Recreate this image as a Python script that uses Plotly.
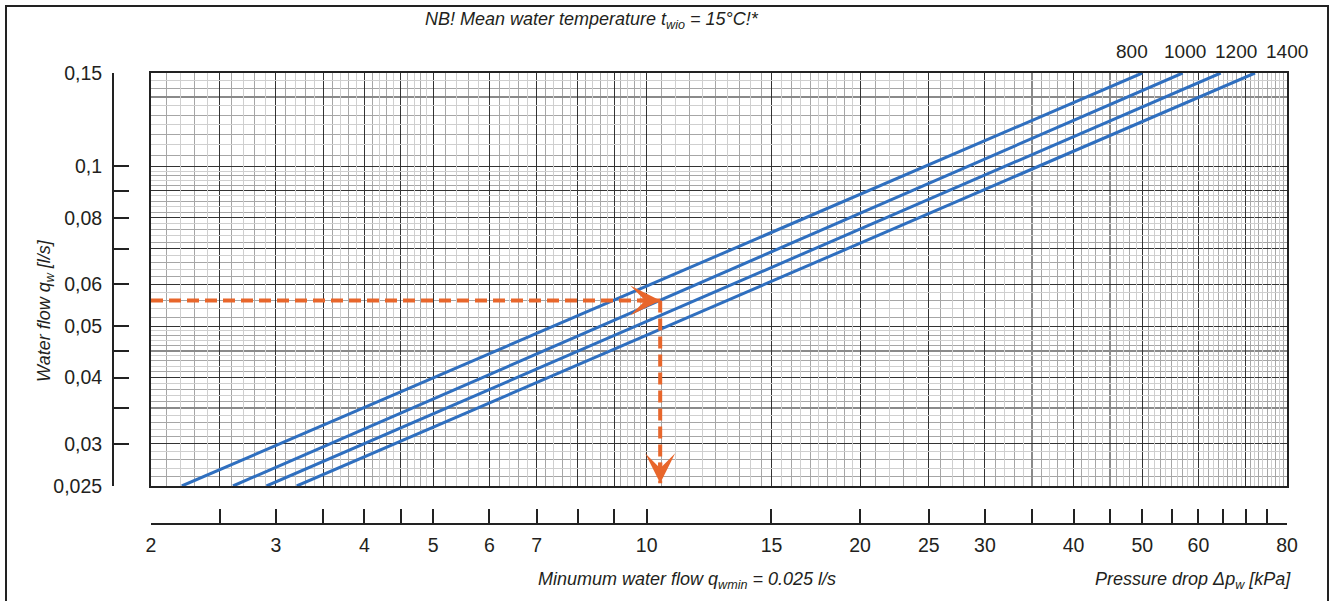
import math
import plotly.graph_objects as go

# ---------------- data ----------------
curve_labels = ["800", "1000", "1200", "1400"]
flow_ends = [0.025, 0.15]                     # l/s at bottom / top of the grid
dp_at_flow_min = [2.21, 2.61, 2.91, 3.21]     # kPa where each line meets q = 0.025
dp_at_flow_max = [50.0, 57.0, 64.5, 72.1]     # kPa where each line meets q = 0.15
label_dp = [48.3, 57.4, 67.8, 80.0]           # kPa position of the curve labels

example_dp_start = 2.0
example_flow = 0.0559
example_dp = 10.45
example_flow_floor = 0.0253

x_range = [2, 80]
y_range = [0.025, 0.15]

x_tick_vals = [2, 2.5, 3, 3.5, 4, 4.5, 5, 6, 7, 8, 9, 10, 15, 20, 25, 30, 35, 40,
               45, 50, 55, 60, 65, 70, 75, 80]
x_tick_text = ["2", "", "3", "", "4", "", "5", "6", "7", "", "", "10", "15", "20",
               "25", "30", "", "40", "", "50", "", "60", "", "", "", "80"]
y_tick_vals = [0.025, 0.03, 0.035, 0.04, 0.045, 0.05, 0.06, 0.07, 0.08, 0.09, 0.1, 0.15]
y_tick_text = ["0,025", "0,03", "", "0,04", "", "0,05", "0,06", "", "0,08", "", "0,1", "0,15"]

# grid of the log paper
x_grid_dark = [2.5, 3, 3.5, 4, 4.5, 5, 6, 7, 8, 9, 10, 15, 20, 25, 30, 40, 50, 60, 70]
x_grid_semi = [35, 45]
y_grid_dark = [0.03, 0.04, 0.05, 0.06, 0.07, 0.08, 0.09, 0.1]
y_grid_semi = [0.035, 0.045, 0.135]


def steps(a, b, s):
    n = int(round((b - a) / s))
    return [round(a + i * s, 4) for i in range(1, n)]


x_minor = [v for v in steps(2, 5, 0.1) + steps(5, 10, 0.2) + steps(10, 20, 0.5) + steps(20, 80, 1)
           if v not in x_grid_dark + x_grid_semi]
y_minor = [v for v in steps(0.025, 0.05, 0.001) + steps(0.05, 0.1, 0.002) + steps(0.1, 0.15, 0.005)
           if v not in y_grid_dark + y_grid_semi]
x_mid, x_light = x_minor[0::2], x_minor[1::2]
y_mid, y_light = y_minor[0::2], y_minor[1::2]

# ---------------- style ----------------
FONT = "Liberation Sans, Arial, Helvetica, sans-serif"
INK = "#231f20"
BLUE = "#2f6fbf"
ORANGE = "#e8662b"
W, H = 1333, 601
ML, MR, MT, MB = 113, 46, 73, 77
PW = W - ML - MR
PH = H - MT - MB


def px_x(p):
    return (p - ML) / PW


def px_y(p):
    return (H - MB - p) / PH


fig = go.Figure()

# invisible anchors for helper axes
fig.add_trace(go.Scatter(x=[10], y=[0.05], xaxis="x2", yaxis="y2", mode="markers",
                         marker=dict(opacity=0), hoverinfo="skip", showlegend=False))
fig.add_trace(go.Scatter(x=[10], y=[0.05], xaxis="x3", yaxis="y3", mode="markers",
                         marker=dict(opacity=0), hoverinfo="skip", showlegend=False))

# curves
for lab, d0, d1 in zip(curve_labels, dp_at_flow_min, dp_at_flow_max):
    fig.add_trace(go.Scatter(x=[d0, d1], y=flow_ends, mode="lines", name=lab,
                             line=dict(color=BLUE, width=3), showlegend=False))

# example reading
fig.add_trace(go.Scatter(x=[example_dp_start, example_dp], y=[example_flow, example_flow],
                         mode="lines", line=dict(color=ORANGE, width=4, dash="12px,6px"),
                         showlegend=False, hoverinfo="skip"))
fig.add_trace(go.Scatter(x=[example_dp, example_dp], y=[example_flow, example_flow_floor],
                         mode="lines", line=dict(color=ORANGE, width=4, dash="12px,6px"),
                         showlegend=False, hoverinfo="skip"))

annotations = []
for lab, xd in zip(curve_labels, label_dp):
    annotations.append(dict(x=math.log10(xd), xref="x", y=px_y(52), yref="paper",
                            xanchor="center", yanchor="middle",
                            text=lab, showarrow=False, font=dict(size=19, color=INK, family=FONT)))
annotations.append(dict(x=math.log10(example_dp), y=math.log10(example_flow), xref="x", yref="y",
                        text="", showarrow=True, ax=-22, ay=0, arrowhead=3, arrowsize=1.25,
                        arrowwidth=4, arrowcolor=ORANGE))
annotations.append(dict(x=math.log10(example_dp), y=math.log10(example_flow_floor), xref="x", yref="y",
                        text="", showarrow=True, ax=0, ay=-22, arrowhead=3, arrowsize=1.25,
                        arrowwidth=4, arrowcolor=ORANGE))
ital = dict(family=FONT, size=18, color=INK)
annotations += [
    dict(x=px_x(592), y=px_y(20), xref="paper", yref="paper", showarrow=False,
         xanchor="center", yanchor="middle",
         text="<i>NB! Mean water temperature t<sub>wio</sub> = 15°C!*</i>", font=ital),
    dict(x=px_x(45), y=px_y(311), xref="paper", yref="paper", showarrow=False, textangle=-90,
         xanchor="center", yanchor="middle",
         text="<i>Water flow q<sub>w</sub> [l/s]</i>", font=ital),
    dict(x=px_x(687), y=px_y(580), xref="paper", yref="paper", showarrow=False,
         xanchor="center", yanchor="middle",
         text="<i>Minumum water flow q<sub>wmin</sub> = 0.025 l/s</i>", font=ital),
    dict(x=px_x(1293), y=px_y(580), xref="paper", yref="paper", showarrow=False,
         xanchor="right", yanchor="middle",
         text="<i>Pressure drop Δp<sub>w</sub> [kPa]</i>", font=ital),
]

lx = [math.log10(v) for v in x_range]
ly = [math.log10(v) for v in y_range]
xdom = [px_x(151), 1]
ydom = [px_y(486), 1]

fig.update_layout(
    width=W, height=H, margin=dict(l=ML, r=MR, t=MT, b=MB),
    paper_bgcolor="white", plot_bgcolor="white", showlegend=False,
    font=dict(family=FONT, color=INK),
    xaxis=dict(type="log", range=lx, domain=xdom, showline=True, mirror=True, linecolor="#222",
               linewidth=2, tickmode="array", tickvals=x_grid_dark, showticklabels=False, ticks="",
               showgrid=True, gridcolor="#333333", gridwidth=1.2,
               minor=dict(tickmode="array", tickvals=x_mid, showgrid=True, gridcolor="#a6a6a6",
                          gridwidth=1, ticks="")),
    yaxis=dict(type="log", range=ly, domain=ydom, showline=True, mirror=True, linecolor="#222",
               linewidth=2, tickmode="array", tickvals=y_grid_dark, showticklabels=False, ticks="",
               showgrid=True, gridcolor="#333333", gridwidth=1.2,
               minor=dict(tickmode="array", tickvals=y_mid, showgrid=True, gridcolor="#a6a6a6",
                          gridwidth=1, ticks="")),
    xaxis3=dict(type="log", range=lx, overlaying="x", showticklabels=False, ticks="",
                tickmode="array", tickvals=x_light, showgrid=True, gridcolor="#cfcfcf", gridwidth=1,
                minor=dict(tickmode="array", tickvals=x_grid_semi, showgrid=True, gridcolor="#8a8a8a",
                           gridwidth=1.5, ticks="")),
    yaxis3=dict(type="log", range=ly, overlaying="y", showticklabels=False, ticks="",
                tickmode="array", tickvals=y_light, showgrid=True, gridcolor="#cfcfcf", gridwidth=1,
                minor=dict(tickmode="array", tickvals=y_grid_semi, showgrid=True, gridcolor="#8a8a8a",
                           gridwidth=1.5, ticks="")),
    xaxis2=dict(type="log", range=lx, overlaying="x", anchor="free", position=0, side="bottom",
                showgrid=False, showline=True, linecolor="#222", linewidth=2,
                tickmode="array", tickvals=x_tick_vals, ticktext=x_tick_text,
                ticks="inside", ticklen=14, tickwidth=2, tickcolor="#222", ticklabelstandoff=4,
                tickfont=dict(size=19.5, color=INK, family=FONT)),
    yaxis2=dict(type="log", range=ly, overlaying="y", anchor="free", position=0, side="left",
                showgrid=False, showline=True, linecolor="#222", linewidth=2,
                tickmode="array", tickvals=y_tick_vals, ticktext=y_tick_text,
                ticks="inside", ticklen=15, tickwidth=2, tickcolor="#222", ticklabelstandoff=6,
                tickfont=dict(size=19.5, color=INK, family=FONT)),
    annotations=annotations,
    shapes=[dict(type="rect", xref="paper", yref="paper", x0=px_x(6), x1=px_x(1328),
                 y0=px_y(640), y1=px_y(6), line=dict(color="#222", width=2), layer="below")],
)

fig.write_html("out.html", config={"displayModeBar": False},
               post_script="document.body.style.margin='0px';")
